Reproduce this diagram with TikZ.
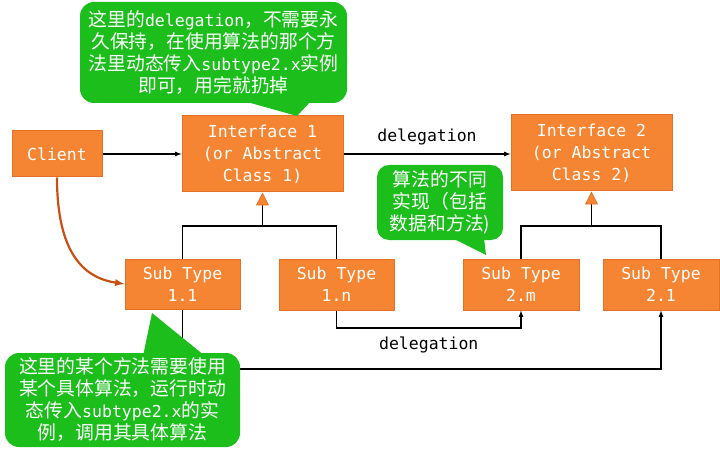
\documentclass[tikz,border=0pt]{standalone}
\usepackage{fontspec}
\setmainfont{DejaVu Sans Mono}
\newfontfamily\zhfont{Noto Sans CJK SC}[Scale=1.14]
\usepackage{tikz}
\usepackage{xcolor}
\usetikzlibrary{arrows.meta}
\newcommand{\zh}[1]{{\zhfont #1}}
\definecolor{boxfill}{RGB}{245,133,50}
\definecolor{boxline}{RGB}{228,112,40}
\definecolor{notegreen}{RGB}{28,190,28}
\definecolor{linkred}{RGB}{200,80,18}
\tikzset{
    txt/.style={font=\fontsize{16.5pt}{22pt}\selectfont},
    box/.style={txt,draw=boxline,fill=boxfill,text=white,align=center,inner sep=0pt,line width=1pt},
    note/.style={txt,fill=notegreen,text=white,align=center,inner sep=0pt,rounded corners=14pt},
    link/.style={line width=1.2pt,-latex},
    inherit/.style={line width=1.2pt,-{Triangle[length=13pt,width=13pt,fill=boxfill,color=boxline,line width=0.8pt]}},
}

\begin{document}
\begin{tikzpicture}[x=1pt,y=-1pt]
        \useasboundingbox (0,0) rectangle (720,449);
        % boxes
        \node[box,minimum width=90pt,minimum height=46pt] (client) at (57,154) {Client};
        \node[box,minimum width=161pt,minimum height=76pt] (if1) at (262.5,154) {Interface 1\\(or Abstract\\Class 1)};
        \node[box,minimum width=161pt,minimum height=76pt] (if2) at (591.5,153) {Interface 2\\(or Abstract\\Class 2)};
        \node[box,minimum width=115pt,minimum height=50pt] (st11) at (182.5,284) {Sub Type\\1.1};
        \node[box,minimum width=115pt,minimum height=51pt] (st1n) at (336.5,284.5) {Sub Type\\1.n};
        \node[box,minimum width=116pt,minimum height=51pt] (st2m) at (521,284.5) {Sub Type\\2.m};
        \node[box,minimum width=116pt,minimum height=51pt] (st21) at (661,284.5) {Sub Type\\2.1};
        % inheritance
        \coordinate (j1) at (262.5,226);
        \coordinate (j2) at (591.5,226);
        \draw[line width=1.2pt] (st11.north) |- (j1) -| (st1n.north);
        \draw[line width=1.2pt] (st2m.north) |- (j2) -| (st21.north);
        \draw[inherit] (j1) -- (if1.south);
        \draw[inherit] (j2) -- (if2.south);
        % links
        \draw[link] (client) -- (if1);
        \draw[link] (if1.east) -- node[txt,above=5pt,text=black]{delegation} (if1.east -| if2.west);
        \draw[line width=2.2pt,linkred,-latex] (client.south) .. controls (57,255) and (85,278) .. (st11.west);
        \coordinate (d1) at (336.5,328);
        \coordinate (d2) at (182.5,369);
        \draw[link] (st1n.south) -- (d1) -| node[pos=0.25,txt,below=5pt,text=black]{delegation} (st2m.south);
        \draw[link] (st11.south) -- (d2) -| (st21.south);
        % notes
        \node[note,minimum width=267pt,minimum height=101pt] (note1) at (213.5,52.5)
            {\zh{这里的}delegation\zh{，不需要永}\\\zh{久保持，在使用算法的那个方}\\\zh{法里动态传入}subtype2.x\zh{实例}\\\zh{即可，用完就扔掉}};
        \fill[notegreen] (240,100) -- (297,116) -- (312,100) -- cycle;
        \node[note,rounded corners=12pt,minimum width=126pt,minimum height=75pt] (note2) at (440,202.5)
            {\zh{算法的不同}\\\zh{实现（包括}\\\zh{数据和方法)}};
        \fill[notegreen] (452,238) -- (486,255) -- (484,238) -- cycle;
        \node[note,minimum width=235pt,minimum height=94pt] (note3) at (122.5,400)
            {\zh{这里的某个方法需要使用}\\\zh{某个具体算法，运行时动}\\\zh{态传入}subtype2.x\zh{的实}\\\zh{例，调用其具体算法}};
        \fill[notegreen] (143,356) -- (152,313) -- (205,356) -- cycle;
\end{tikzpicture}
\end{document}
